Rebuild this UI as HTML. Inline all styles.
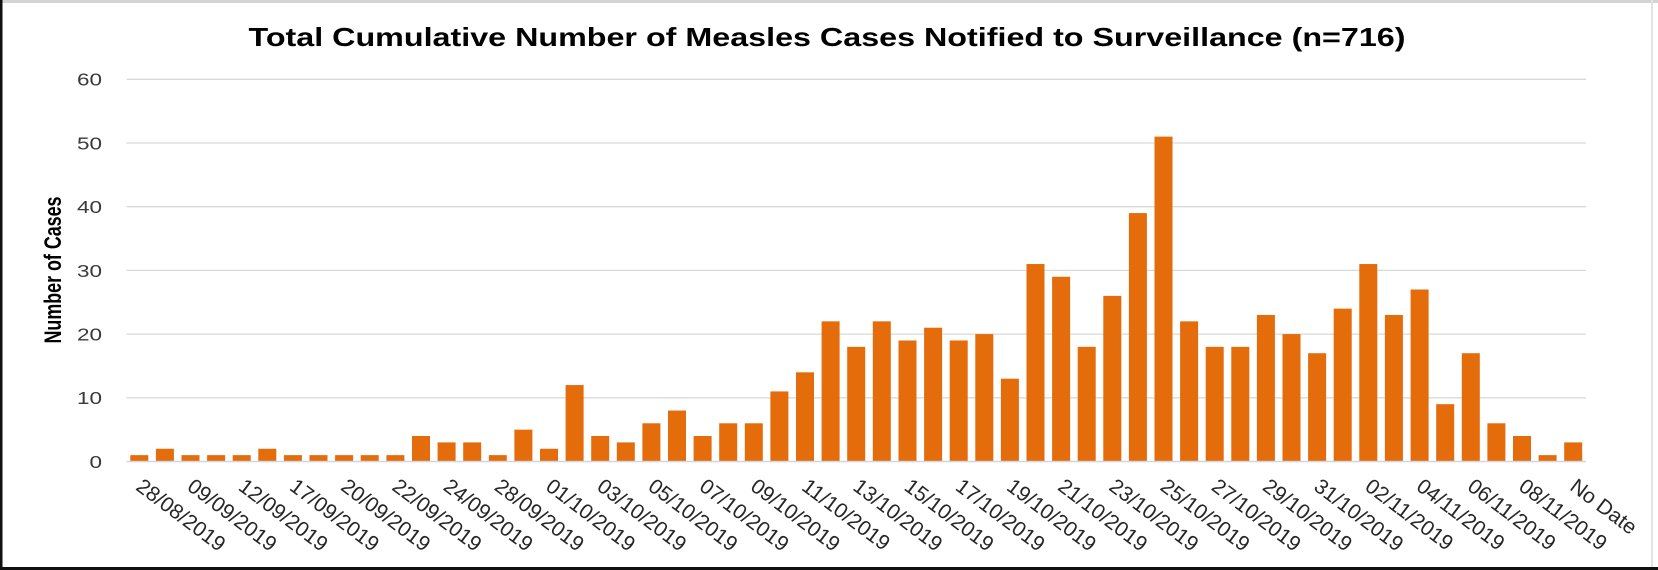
<!DOCTYPE html>
<html>
<head>
<meta charset="utf-8">
<style>
html,body{margin:0;padding:0;background:#fff;}
svg{display:block;}
</style>
</head>
<body>
<svg width="1658" height="570" viewBox="0 0 1658 570" xmlns="http://www.w3.org/2000/svg">
<rect x="0" y="0" width="1658" height="570" fill="#ffffff"/>
<!-- frame -->
<rect x="0" y="0" width="1658" height="3" fill="#d4d4d4"/>
<rect x="1651" y="0" width="2" height="570" fill="#e2e2e2"/>
<rect x="0" y="0" width="2.5" height="570" fill="#111"/>
<rect x="0" y="567" width="1658" height="3" fill="#111"/>

<!-- title -->
<text x="248.5" y="46" font-family="Liberation Sans, Arial, sans-serif" font-weight="bold" font-size="26" fill="#000" textLength="1157" lengthAdjust="spacingAndGlyphs">Total Cumulative Number of Measles Cases Notified to Surveillance (n=716)</text>

<!-- gridlines -->
<g stroke="#d9d9d9" stroke-width="1.3">
<line x1="126.5" y1="79.3" x2="1586" y2="79.3"/>
<line x1="126.5" y1="143" x2="1586" y2="143"/>
<line x1="126.5" y1="206.7" x2="1586" y2="206.7"/>
<line x1="126.5" y1="270.4" x2="1586" y2="270.4"/>
<line x1="126.5" y1="334.1" x2="1586" y2="334.1"/>
<line x1="126.5" y1="397.8" x2="1586" y2="397.8"/>
</g>

<!-- y tick labels -->
<g font-family="Liberation Sans, Arial, sans-serif" font-size="18" fill="#3a3a3a" text-anchor="end">
<text transform="translate(102,85.7) scale(1.25,1)">60</text>
<text transform="translate(102,149.4) scale(1.25,1)">50</text>
<text transform="translate(102,213.1) scale(1.25,1)">40</text>
<text transform="translate(102,276.8) scale(1.25,1)">30</text>
<text transform="translate(102,340.5) scale(1.25,1)">20</text>
<text transform="translate(102,404.2) scale(1.25,1)">10</text>
<text transform="translate(102,467.9) scale(1.25,1)">0</text>
</g>

<!-- y axis title -->
<text transform="translate(61,270) rotate(-90)" text-anchor="middle" font-family="Liberation Sans, Arial, sans-serif" font-weight="bold" font-size="24" fill="#000" textLength="147" lengthAdjust="spacingAndGlyphs">Number of Cases</text>

<!-- bars -->
<g transform="translate(-0.3,461.5) scale(1,-6.37)" fill="#E46C0A">
<rect x="130.6" y="0" width="18" height="1"/>
<rect x="156.2" y="0" width="18" height="2"/>
<rect x="181.8" y="0" width="18" height="1"/>
<rect x="207.4" y="0" width="18" height="1"/>
<rect x="233.0" y="0" width="18" height="1"/>
<rect x="258.6" y="0" width="18" height="2"/>
<rect x="284.2" y="0" width="18" height="1"/>
<rect x="309.8" y="0" width="18" height="1"/>
<rect x="335.4" y="0" width="18" height="1"/>
<rect x="361.0" y="0" width="18" height="1"/>
<rect x="386.7" y="0" width="18" height="1"/>
<rect x="412.3" y="0" width="18" height="4"/>
<rect x="437.9" y="0" width="18" height="3"/>
<rect x="463.5" y="0" width="18" height="3"/>
<rect x="489.1" y="0" width="18" height="1"/>
<rect x="514.7" y="0" width="18" height="5"/>
<rect x="540.3" y="0" width="18" height="2"/>
<rect x="565.9" y="0" width="18" height="12"/>
<rect x="591.5" y="0" width="18" height="4"/>
<rect x="617.1" y="0" width="18" height="3"/>
<rect x="642.7" y="0" width="18" height="6"/>
<rect x="668.3" y="0" width="18" height="8"/>
<rect x="693.9" y="0" width="18" height="4"/>
<rect x="719.5" y="0" width="18" height="6"/>
<rect x="745.1" y="0" width="18" height="6"/>
<rect x="770.7" y="0" width="18" height="11"/>
<rect x="796.3" y="0" width="18" height="14"/>
<rect x="821.9" y="0" width="18" height="22"/>
<rect x="847.5" y="0" width="18" height="18"/>
<rect x="873.1" y="0" width="18" height="22"/>
<rect x="898.8" y="0" width="18" height="19"/>
<rect x="924.4" y="0" width="18" height="21"/>
<rect x="950.0" y="0" width="18" height="19"/>
<rect x="975.6" y="0" width="18" height="20"/>
<rect x="1001.2" y="0" width="18" height="13"/>
<rect x="1026.8" y="0" width="18" height="31"/>
<rect x="1052.4" y="0" width="18" height="29"/>
<rect x="1078.0" y="0" width="18" height="18"/>
<rect x="1103.6" y="0" width="18" height="26"/>
<rect x="1129.2" y="0" width="18" height="39"/>
<rect x="1154.8" y="0" width="18" height="51"/>
<rect x="1180.4" y="0" width="18" height="22"/>
<rect x="1206.0" y="0" width="18" height="18"/>
<rect x="1231.6" y="0" width="18" height="18"/>
<rect x="1257.2" y="0" width="18" height="23"/>
<rect x="1282.8" y="0" width="18" height="20"/>
<rect x="1308.4" y="0" width="18" height="17"/>
<rect x="1334.0" y="0" width="18" height="24"/>
<rect x="1359.6" y="0" width="18" height="31"/>
<rect x="1385.2" y="0" width="18" height="23"/>
<rect x="1410.9" y="0" width="18" height="27"/>
<rect x="1436.5" y="0" width="18" height="9"/>
<rect x="1462.1" y="0" width="18" height="17"/>
<rect x="1487.7" y="0" width="18" height="6"/>
<rect x="1513.3" y="0" width="18" height="4"/>
<rect x="1538.9" y="0" width="18" height="1"/>
<rect x="1564.5" y="0" width="18" height="3"/>
</g>

<!-- x axis line -->
<line x1="126.5" y1="461.5" x2="1586" y2="461.5" stroke="#cdd6e2" stroke-width="1.5"/>

<!-- x labels -->
<g font-family="Liberation Sans, Arial, sans-serif" font-size="21" fill="#262626">
<text transform="translate(134.8,489) rotate(37)">28/08/2019</text>
<text transform="translate(186.0,489) rotate(37)">09/09/2019</text>
<text transform="translate(237.2,489) rotate(37)">12/09/2019</text>
<text transform="translate(288.4,489) rotate(37)">17/09/2019</text>
<text transform="translate(339.6,489) rotate(37)">20/09/2019</text>
<text transform="translate(390.9,489) rotate(37)">22/09/2019</text>
<text transform="translate(442.1,489) rotate(37)">24/09/2019</text>
<text transform="translate(493.3,489) rotate(37)">28/09/2019</text>
<text transform="translate(544.5,489) rotate(37)">01/10/2019</text>
<text transform="translate(595.7,489) rotate(37)">03/10/2019</text>
<text transform="translate(646.9,489) rotate(37)">05/10/2019</text>
<text transform="translate(698.1,489) rotate(37)">07/10/2019</text>
<text transform="translate(749.3,489) rotate(37)">09/10/2019</text>
<text transform="translate(800.5,489) rotate(37)">11/10/2019</text>
<text transform="translate(851.7,489) rotate(37)">13/10/2019</text>
<text transform="translate(903.0,489) rotate(37)">15/10/2019</text>
<text transform="translate(954.2,489) rotate(37)">17/10/2019</text>
<text transform="translate(1005.4,489) rotate(37)">19/10/2019</text>
<text transform="translate(1056.6,489) rotate(37)">21/10/2019</text>
<text transform="translate(1107.8,489) rotate(37)">23/10/2019</text>
<text transform="translate(1159.0,489) rotate(37)">25/10/2019</text>
<text transform="translate(1210.2,489) rotate(37)">27/10/2019</text>
<text transform="translate(1261.4,489) rotate(37)">29/10/2019</text>
<text transform="translate(1312.6,489) rotate(37)">31/10/2019</text>
<text transform="translate(1363.8,489) rotate(37)">02/11/2019</text>
<text transform="translate(1415.1,489) rotate(37)">04/11/2019</text>
<text transform="translate(1466.3,489) rotate(37)">06/11/2019</text>
<text transform="translate(1517.5,489) rotate(37)">08/11/2019</text>
<text transform="translate(1568.7,489) rotate(37)">No Date</text>
</g>
</svg>
</body>
</html>
